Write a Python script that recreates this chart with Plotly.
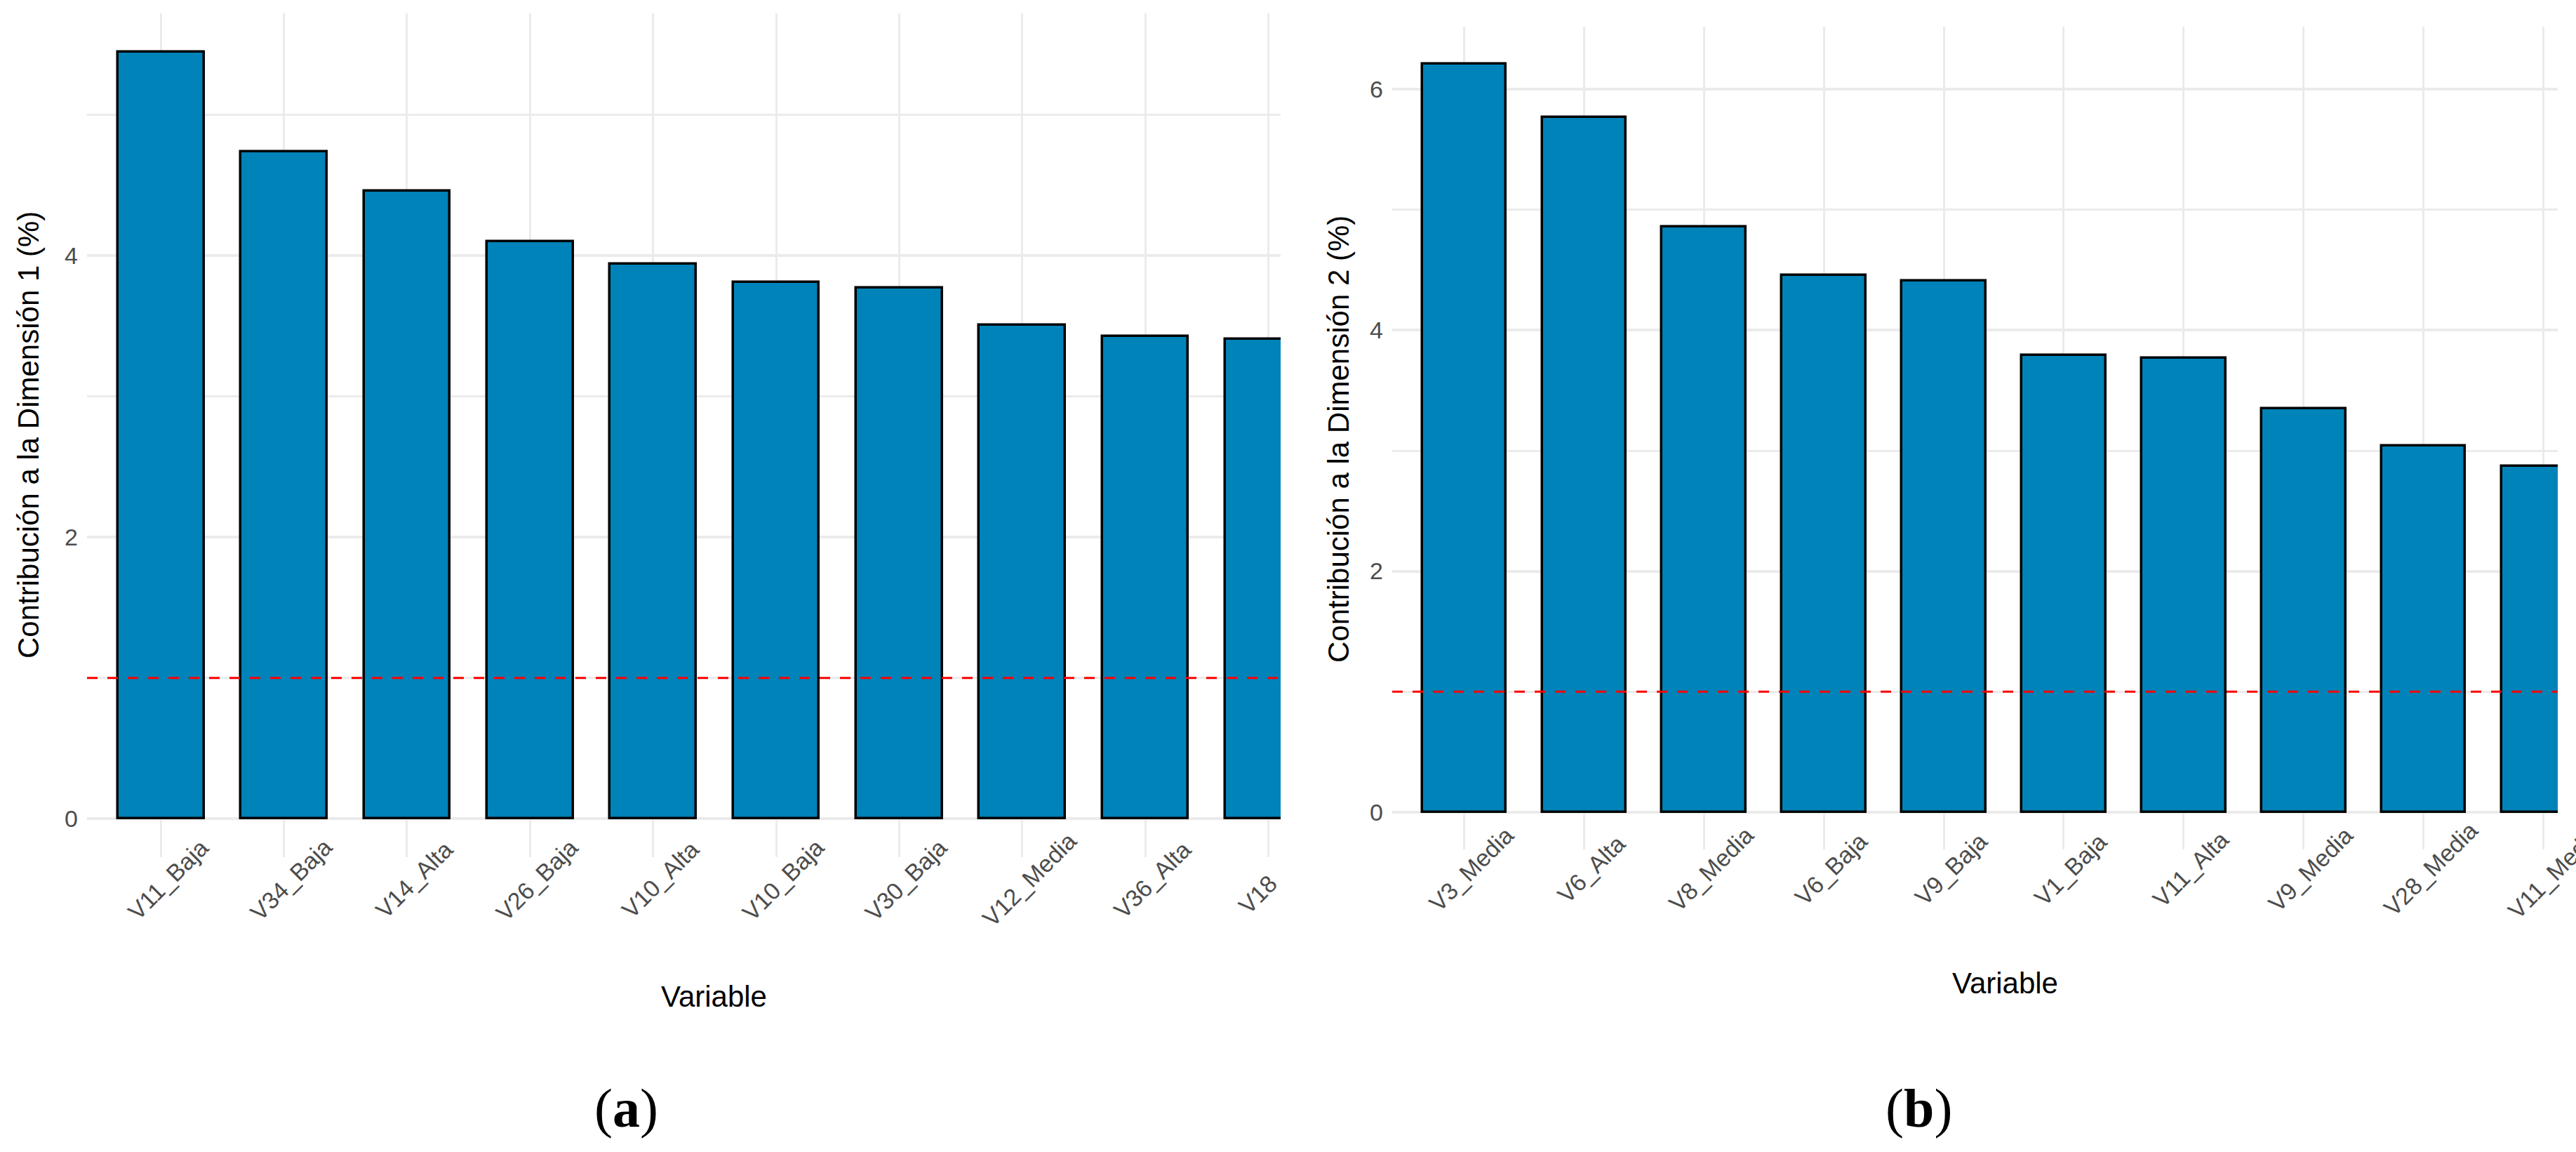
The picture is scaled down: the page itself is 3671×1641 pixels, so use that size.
import plotly.graph_objects as go

# ---------------- data ----------------
cats_a = ["V11_Baja", "V34_Baja", "V14_Alta", "V26_Baja", "V10_Alta",
          "V10_Baja", "V30_Baja", "V12_Media", "V36_Alta", "V18"]
vals_a = [5.45, 4.74, 4.46, 4.10, 3.94, 3.81, 3.77, 3.51, 3.43, 3.41]

cats_b = ["V3_Media", "V6_Alta", "V8_Media", "V6_Baja", "V9_Baja",
          "V1_Baja", "V11_Alta", "V9_Media", "V28_Media", "V11_Media"]
vals_b = [6.21, 5.77, 4.86, 4.46, 4.41, 3.79, 3.77, 3.35, 3.04, 2.87]

ref_line = 1.0
yticks_a = [0, 2, 4]
yticks_b = [0, 2, 4, 6]
ytitle_a = "Contribución a la Dimensión 1 (%)"
ytitle_b = "Contribución a la Dimensión 2 (%)"
xtitle = "Variable"

# ---------------- style ----------------
W, H = 3671, 1641
BAR = "#0083B8"
GRID = "#EBEBEB"
TICKC = "#4D4D4D"
SANS = "Liberation Sans, Arial, sans-serif"
SERIF = "Liberation Serif, Times New Roman, serif"
TICK_FS = 34
TITLE_FS = 42


def px_x(p):
    return p / W


def px_y(p):
    return 1 - p / H


fig = go.Figure()
fig.add_trace(go.Bar(x=cats_a, y=vals_a, width=0.7, xaxis="x", yaxis="y",
                     marker=dict(color=BAR, line=dict(color="black", width=3.5)),
                     showlegend=False))
fig.add_trace(go.Bar(x=cats_b, y=vals_b, width=0.7, xaxis="x2", yaxis="y2",
                     marker=dict(color=BAR, line=dict(color="black", width=3.5)),
                     showlegend=False))

common_x = dict(type="category", showgrid=True, gridcolor=GRID, gridwidth=3,
                showticklabels=False, ticks="", showline=False, zeroline=False,
                fixedrange=True)
common_y = dict(showgrid=True, gridcolor=GRID, gridwidth=4, ticks="",
                showline=False, zeroline=False,
                tickfont=dict(family=SANS, size=TICK_FS, color=TICKC),
                ticklabelstandoff=12,
                minor=dict(tick0=0, dtick=1, showgrid=True, gridcolor=GRID,
                           gridwidth=2.5, ticks=""))

max_a = max(vals_a)
max_b = max(vals_b)
fig.update_layout(
    width=W, height=H,
    margin=dict(l=0, r=0, t=0, b=0),
    paper_bgcolor="white", plot_bgcolor="white",
    bargap=0,
    xaxis=dict(common_x, domain=[px_x(124), px_x(1825)], range=[-0.6, 9.1],
               anchor="y"),
    yaxis=dict(common_y, domain=[px_y(1221), px_y(19)],
               range=[-0.05 * max_a, 1.05 * max_a], tickvals=yticks_a,
               ticktext=[str(v) for v in yticks_a], anchor="x"),
    xaxis2=dict(common_x, domain=[px_x(1984), px_x(3645)], range=[-0.6, 9.12],
                anchor="y2"),
    yaxis2=dict(common_y, domain=[px_y(1210), px_y(38)],
                range=[-0.05 * max_b, 1.05 * max_b], tickvals=yticks_b,
                ticktext=[str(v) for v in yticks_b], anchor="x2"),
)

# reference dashed line
for xr, yr in (("x domain", "y"), ("x2 domain", "y2")):
    fig.add_shape(type="line", xref=xr, yref=yr, x0=0, x1=1, y0=ref_line,
                  y1=ref_line, layer="above",
                  line=dict(color="#FF0000", width=3, dash="15px,14px"))

ann = []
# rotated x tick labels (centered, as in ggplot angle=45)
for cats, xr, yc in ((cats_a, "x", px_y(1253)), (cats_b, "x2", px_y(1238))):
    for i, c in enumerate(cats):
        xs, ys = 10, 0
        if xr == "x" and i == len(cats) - 1:
            xs, ys = -15, -21  # truncated label at the panel edge
        if xr == "x2" and i == len(cats) - 1:
            xs, ys = 16, -4   # label running past the right page edge
        ann.append(dict(x=c, xref=xr, y=yc, yref="paper", text=c,
                        textangle=-45, showarrow=False, xanchor="center",
                        yanchor="middle", xshift=xs, yshift=ys,
                        font=dict(family=SANS, size=TICK_FS, color=TICKC)))

# axis titles
ann.append(dict(x=px_x(40), y=px_y(620), xref="paper", yref="paper",
                text=ytitle_a, textangle=-90, showarrow=False,
                xanchor="center", yanchor="middle",
                font=dict(family=SANS, size=TITLE_FS, color="black")))
ann.append(dict(x=px_x(1908), y=px_y(626), xref="paper", yref="paper",
                text=ytitle_b, textangle=-90, showarrow=False,
                xanchor="center", yanchor="middle",
                font=dict(family=SANS, size=TITLE_FS, color="black")))
ann.append(dict(x=px_x(1017), y=px_y(1419), xref="paper", yref="paper",
                text=xtitle, showarrow=False, xanchor="center",
                yanchor="middle",
                font=dict(family=SANS, size=TITLE_FS, color="black")))
ann.append(dict(x=px_x(2857), y=px_y(1400), xref="paper", yref="paper",
                text=xtitle, showarrow=False, xanchor="center",
                yanchor="middle",
                font=dict(family=SANS, size=TITLE_FS, color="black")))

# panel labels
ann.append(dict(x=px_x(892), y=px_y(1578), xref="paper", yref="paper",
                text="(<b>a</b>)", showarrow=False, xanchor="center",
                yanchor="middle",
                font=dict(family=SERIF, size=78, color="black")))
ann.append(dict(x=px_x(2734), y=px_y(1578), xref="paper", yref="paper",
                text="(<b>b</b>)", showarrow=False, xanchor="center",
                yanchor="middle",
                font=dict(family=SERIF, size=78, color="black")))

fig.update_layout(annotations=ann)

fig.write_html("out.html",
               config={"displayModeBar": False},
               post_script="document.body.style.margin='0';"
                           "document.body.style.overflow='hidden';")
